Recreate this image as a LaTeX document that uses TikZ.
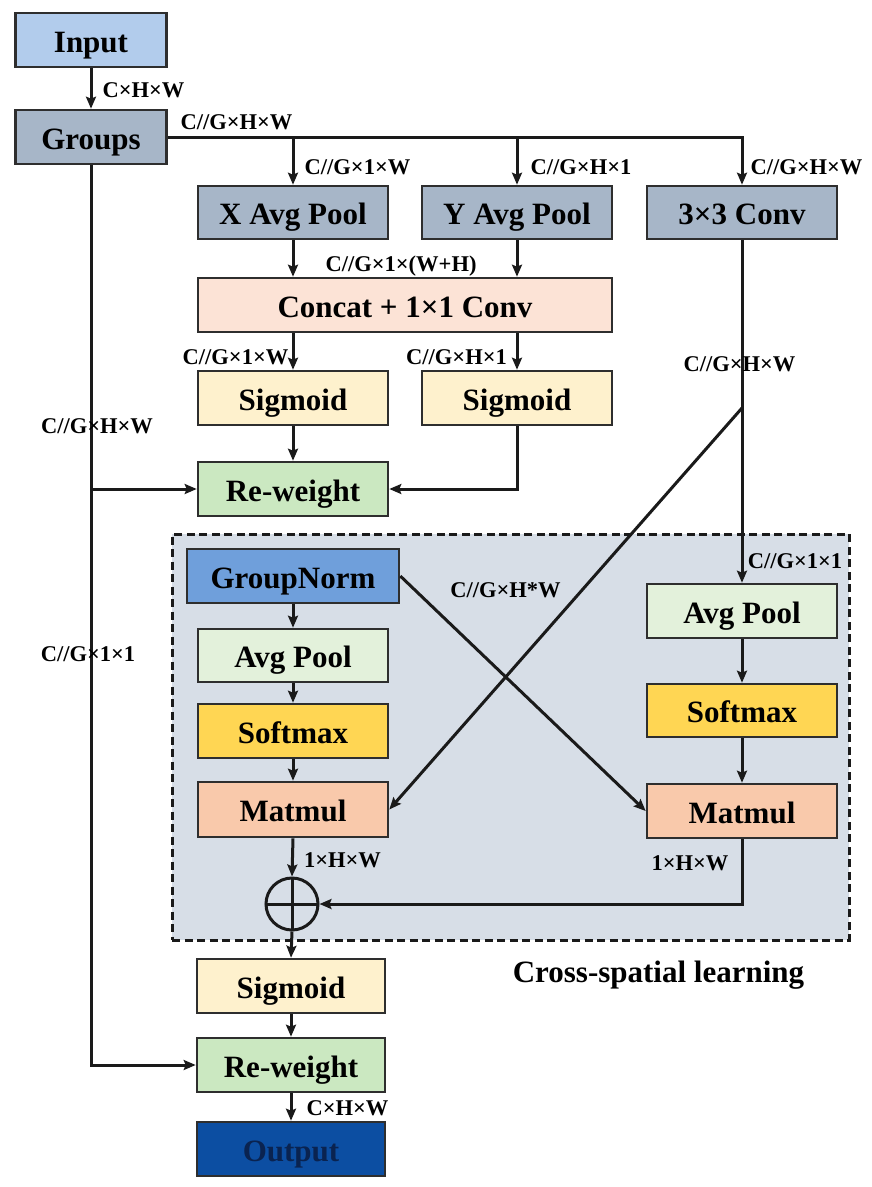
\documentclass[tikz,border=0pt]{standalone}
\usepackage{fontspec}
\setmainfont{Liberation Serif}
\usetikzlibrary{arrows.meta,calc}
\definecolor{cInput}{HTML}{B2CCEC}
\definecolor{cGroup}{HTML}{A7B6C8}
\definecolor{cConcat}{HTML}{FCE3D6}
\definecolor{cSig}{HTML}{FEF1CD}
\definecolor{cRw}{HTML}{CBE8C1}
\definecolor{cGN}{HTML}{6F9FDB}
\definecolor{cAP}{HTML}{E3F1DB}
\definecolor{cSm}{HTML}{FFD653}
\definecolor{cMm}{HTML}{F9C9AB}
\definecolor{cBg}{HTML}{D7DEE7}
\definecolor{cOut}{HTML}{0C4EA2}
\definecolor{cOutT}{HTML}{0A2350}
\definecolor{cLine}{HTML}{1A1A1A}
\definecolor{cBorder}{HTML}{2E2E2E}
\begin{document}
\begin{tikzpicture}[x=1pt,y=-1pt,
  box/.style={draw=cBorder, line width=2.6pt, fill=#1, minimum width=190pt, minimum height=54pt,
    inner sep=0pt, text height=24pt, text depth=0pt, font=\fontsize{31}{36}\selectfont\bfseries},
  lbl/.style={font=\fontsize{22.5}{26}\selectfont\bfseries, inner sep=0pt, text height=15pt, text depth=0pt},
  arr/.style={draw=cLine, line width=3pt, -{Stealth[length=12pt,width=10pt,inset=2pt]}},
  ln/.style={draw=cLine, line width=3pt}]
\useasboundingbox (0,0) rectangle (871,1187);

% cross-spatial background
\node (cs) [draw=cLine, line width=3pt, dash pattern=on 8pt off 4.5pt, fill=cBg,
  minimum width=677pt, minimum height=406pt, inner sep=0pt] at (510.5,737) {};

% nodes
\node (input)  [box=cInput, minimum width=151pt] at (91,40) {Input};
\node (groups) [box=cGroup, minimum width=151pt] at (91,137) {Groups};
\node (xpool)  [box=cGroup, minimum height=53pt] at (293,212.5) {X Avg Pool};
\node (ypool)  [box=cGroup, minimum height=53pt] at (517,212.5) {Y Avg Pool};
\node (conv3)  [box=cGroup, minimum height=53pt] at (742,212.5) {3×3 Conv};
\node (concat) [box=cConcat, minimum width=414pt] at (405,305) {Concat + 1×1 Conv};
\node (sig1)   [box=cSig] at (293,398) {Sigmoid};
\node (sig2)   [box=cSig] at (517,398) {Sigmoid};
\node (rw1)    [box=cRw] at (293,489) {Re-weight};
\node (gn)     [box=cGN, minimum width=212pt] at (293,576) {GroupNorm};
\node (ap1)    [box=cAP, minimum height=53pt] at (293,655.5) {Avg Pool};
\node (sm1)    [box=cSm] at (293,731) {Softmax};
\node (mm1)    [box=cMm, minimum height=55pt] at (293,809.5) {Matmul};
\node (ap2)    [box=cAP] at (742,611) {Avg Pool};
\node (sm2)    [box=cSm, minimum height=53pt] at (742,710.5) {Softmax};
\node (mm2)    [box=cMm] at (742,811) {Matmul};
\node (plus)   [circle, draw=cLine, line width=3pt, minimum size=52pt, inner sep=0pt,
  path picture={\draw[line width=3pt, cLine] (path picture bounding box.north) -- (path picture bounding box.south)
  (path picture bounding box.west) -- (path picture bounding box.east);}] at (292,904) {};
\node (sig3)   [box=cSig, minimum width=188pt] at (291,986) {Sigmoid};
\node (rw2)    [box=cRw, minimum width=188pt] at (291,1065) {Re-weight};
\node (out)    [box=cOut, minimum width=188pt, text=cOutT] at (291,1149) {Output};

\coordinate (dsplit) at (742,408);

% connectors
\draw[arr] (input) -- (groups);
\draw[arr] (groups.east) -| (conv3.north);
\draw[arr] (xpool.north |- groups.east) -- (xpool.north);
\draw[arr] (ypool.north |- groups.east) -- (ypool.north);
\draw[arr] (xpool.south) -- (xpool.south |- concat.north);
\draw[arr] (ypool.south) -- (ypool.south |- concat.north);
\draw[arr] (sig1.north |- concat.south) -- (sig1.north);
\draw[arr] (sig2.north |- concat.south) -- (sig2.north);
\draw[arr] (sig1) -- (rw1);
\draw[arr] (sig2.south) |- (rw1.east);
\draw[arr] (groups.south) |- (rw2.west);
\draw[arr] (groups.south |- rw1.west) -- (rw1.west);
\draw[arr] (conv3.south) -- (ap2.north);
\draw[arr] (dsplit) -- (mm1.east);
\draw[arr] (gn.east) -- (mm2.west);
\draw[arr] (gn) -- (ap1);
\draw[arr] (ap1) -- (sm1);
\draw[arr] (sm1) -- (mm1);
\draw[arr] (ap2) -- (sm2);
\draw[arr] (sm2) -- (mm2);
\draw[arr] (mm1.south) -- (plus.north);
\draw[arr] (mm2.south) |- (plus.east);
\draw[arr] (plus.south) -- (sig3.north);
\draw[arr] (sig3) -- (rw2);
\draw[arr] (rw2) -- (out);

% labels
\node (l1)  [lbl] at (143.5,89.5) {C×H×W};
\node (l2)  [lbl] at (236.5,121.5) {C//G×H×W};
\node (l3)  [lbl] at (357.5,166.5) {C//G×1×W};
\node (l4)  [lbl] at (581,166.5) {C//G×H×1};
\node (l5)  [lbl] at (806.5,166.5) {C//G×H×W};
\node (l6)  [lbl] at (401,263.5) {C//G×1×(W+H)};
\node (l7)  [lbl] at (235.5,356.5) {C//G×1×W};
\node (l8)  [lbl] at (456.5,356.5) {C//G×H×1};
\node (l9)  [lbl] at (739.5,363.5) {C//G×H×W};
\node (l10) [lbl] at (97,426) {C//G×H×W};
\node (l11) [lbl] at (795,561) {C//G×1×1};
\node (l12) [lbl] at (505.5,590) {C//G×H*W};
\node (l13) [lbl] at (88,654) {C//G×1×1};
\node (l14) [lbl] at (342.5,860) {1×H×W};
\node (l15) [lbl] at (690,863) {1×H×W};
\node (l16) [lbl] at (347.5,1108) {C×H×W};
\node (title) [font=\fontsize{31}{36}\selectfont\bfseries, inner sep=0pt, text height=20pt, text depth=0pt] at (658.5,972) {Cross-spatial learning};
\end{tikzpicture}
\end{document}
